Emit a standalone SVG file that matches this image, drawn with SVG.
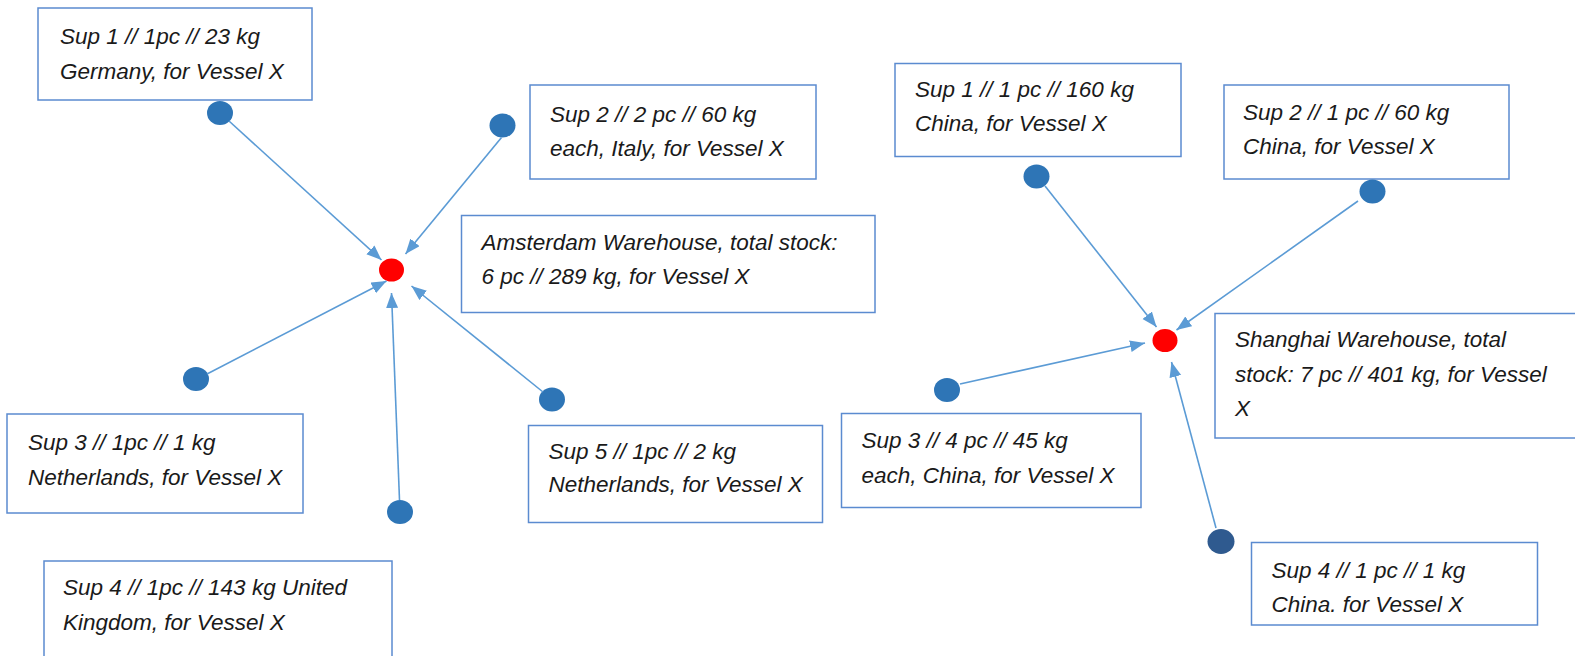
<svg xmlns="http://www.w3.org/2000/svg" width="1575" height="656" viewBox="0 0 1575 656">
  <style>
    .box { fill: #ffffff; stroke: #5B8BD0; stroke-width: 1.5; }
    .lbl { font-family: "Liberation Sans", Arial, sans-serif; font-style: italic; font-size: 22.5px; fill: #1a1a1a; }
    .sup { fill: #2E75B6; }
    .sup-dark { fill: #2F5A8F; }
    .hub { fill: #FF0000; }
    .conn { stroke: #5B9BD5; stroke-width: 1.6; fill: none; marker-end: url(#arrow); }
  </style>
  <defs>
    <marker id="arrow" markerUnits="userSpaceOnUse" markerWidth="16" markerHeight="13" refX="15" refY="6" orient="auto">
      <path d="M0,0 L15,6 L0,12 z" fill="#5B9BD5"/>
    </marker>
  </defs>
  <rect width="1575" height="656" fill="#ffffff"/>

  <!-- Amsterdam cluster -->
  <g id="ams-sup1">
    <rect class="box" x="38" y="8" width="274" height="92"/>
    <text class="lbl" x="60" y="44">Sup 1 // 1pc // 23 kg</text>
    <text class="lbl" x="60" y="79">Germany, for Vessel X</text>
    <ellipse class="sup" cx="220" cy="113" rx="13" ry="12"/>
  </g>
  <g id="ams-sup2">
    <rect class="box" x="530" y="85" width="286" height="94"/>
    <text class="lbl" x="550" y="122">Sup 2 // 2 pc // 60 kg</text>
    <text class="lbl" x="550" y="156">each, Italy, for Vessel X</text>
    <ellipse class="sup" cx="502.5" cy="125.5" rx="13" ry="12"/>
  </g>
  <g id="ams-warehouse">
    <rect class="box" x="461.5" y="215.5" width="413.5" height="97"/>
    <text class="lbl" x="481.5" y="250">Amsterdam Warehouse, total stock:</text>
    <text class="lbl" x="481.5" y="284">6 pc // 289 kg, for Vessel X</text>
    <ellipse class="hub" cx="391.5" cy="270" rx="12.5" ry="11.5"/>
  </g>
  <g id="ams-sup3">
    <rect class="box" x="7" y="414" width="296" height="99"/>
    <text class="lbl" x="28" y="450">Sup 3 // 1pc // 1 kg</text>
    <text class="lbl" x="28" y="485">Netherlands, for Vessel X</text>
    <ellipse class="sup" cx="196" cy="379" rx="13" ry="12"/>
  </g>
  <g id="ams-sup4">
    <rect class="box" x="44" y="561" width="348" height="110"/>
    <text class="lbl" x="63" y="595">Sup 4 // 1pc // 143 kg United</text>
    <text class="lbl" x="63" y="630">Kingdom, for Vessel X</text>
    <ellipse class="sup" cx="400" cy="512" rx="13" ry="12"/>
  </g>
  <g id="ams-sup5">
    <rect class="box" x="528.5" y="425.5" width="294" height="97"/>
    <text class="lbl" x="548.5" y="459">Sup 5 // 1pc // 2 kg</text>
    <text class="lbl" x="548.5" y="492">Netherlands, for Vessel X</text>
    <ellipse class="sup" cx="552" cy="399.5" rx="13" ry="12"/>
  </g>

  <!-- Shanghai cluster -->
  <g id="sha-sup1">
    <rect class="box" x="895" y="63.5" width="286" height="93"/>
    <text class="lbl" x="915" y="97">Sup 1 // 1 pc // 160 kg</text>
    <text class="lbl" x="915" y="131">China, for Vessel X</text>
    <ellipse class="sup" cx="1036.5" cy="176.5" rx="13" ry="12"/>
  </g>
  <g id="sha-sup2">
    <rect class="box" x="1224" y="85" width="285" height="94"/>
    <text class="lbl" x="1243" y="120">Sup 2 // 1 pc // 60 kg</text>
    <text class="lbl" x="1243" y="154">China, for Vessel X</text>
    <ellipse class="sup" cx="1372.5" cy="191.5" rx="13" ry="12"/>
  </g>
  <g id="sha-warehouse">
    <rect class="box" x="1215" y="313.5" width="380" height="124.5"/>
    <text class="lbl" x="1235" y="347">Shanghai Warehouse, total</text>
    <text class="lbl" x="1235" y="382">stock: 7 pc // 401 kg, for Vessel</text>
    <text class="lbl" x="1235" y="416">X</text>
    <ellipse class="hub" cx="1165" cy="340.5" rx="12.5" ry="11.5"/>
  </g>
  <g id="sha-sup3">
    <rect class="box" x="841.5" y="413.5" width="299.5" height="94"/>
    <text class="lbl" x="861.5" y="448">Sup 3 // 4 pc // 45 kg</text>
    <text class="lbl" x="861.5" y="483">each, China, for Vessel X</text>
    <ellipse class="sup" cx="947" cy="390" rx="13" ry="12"/>
  </g>
  <g id="sha-sup4">
    <rect class="box" x="1251.5" y="542.5" width="286" height="82.5"/>
    <text class="lbl" x="1271.5" y="578">Sup 4 // 1 pc // 1 kg</text>
    <text class="lbl" x="1271.5" y="612">China. for Vessel X</text>
    <ellipse class="sup-dark" cx="1221" cy="541.5" rx="13.5" ry="12.5"/>
  </g>

  <!-- supplier-to-warehouse connectors -->
  <g id="connectors">
    <line class="conn" x1="229" y1="121" x2="381.5" y2="260"/>
    <line class="conn" x1="501.5" y1="137.5" x2="405.5" y2="254"/>
    <line class="conn" x1="207" y1="374" x2="386.5" y2="281"/>
    <line class="conn" x1="399.5" y1="500" x2="391.5" y2="293"/>
    <line class="conn" x1="543" y1="392" x2="411.5" y2="286"/>
    <line class="conn" x1="1045" y1="186" x2="1156.5" y2="327"/>
    <line class="conn" x1="1358" y1="201" x2="1176.5" y2="330"/>
    <line class="conn" x1="960" y1="384" x2="1145" y2="343"/>
    <line class="conn" x1="1216" y1="528" x2="1171.5" y2="362"/>
  </g>
</svg>
